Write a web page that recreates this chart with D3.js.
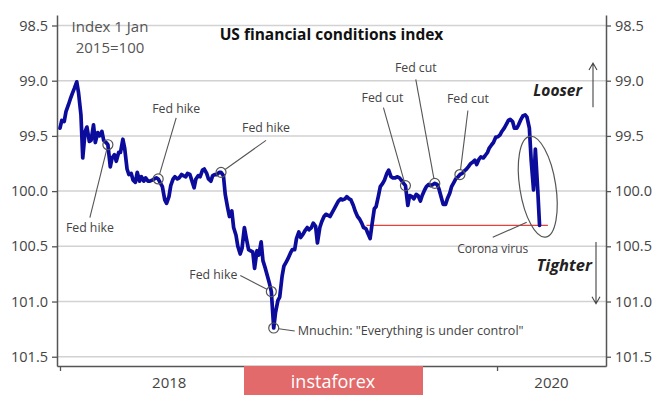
<!DOCTYPE html>
<html>
<head>
<meta charset="utf-8" />
<title>US financial conditions index</title>
<script src="https://cdnjs.cloudflare.com/ajax/libs/d3/7.8.5/d3.min.js"></script>
<style>
  body { margin: 0; background: #fff; }
  text { font-family: "Open Sans", sans-serif; }
</style>
</head>
<body>
<svg id="chart"></svg>
<script>
// readings twice a week (Mon, Thu) from 1 Jan 2018, index 1 Jan 2015 = 100
var firstDay = "2018-01-01";
var fciValues = [
  99.43, 99.36, 99.37, 99.28, 99.22, 99.17, 99.11, 99.07, 99.01, 99.11,
  99.31, 99.70, 99.46, 99.42, 99.55, 99.54, 99.40, 99.56, 99.47, 99.50,
  99.46, 99.54, 99.56, 99.58, 99.78, 99.70, 99.67, 99.73, 99.65, 99.65,
  99.53, 99.61, 99.80, 99.85, 99.84, 99.90, 99.92, 99.83, 99.91, 99.87,
  99.91, 99.88, 99.91, 99.91, 99.90, 99.89, 99.88, 99.89, 99.93, 99.96,
  100.08, 100.11, 100.05, 99.95, 99.89, 99.87, 99.89, 99.88, 99.85, 99.86,
  99.87, 99.84, 99.85, 99.90, 99.97, 99.89, 99.86, 99.87, 99.81, 99.80,
  99.84, 99.89, 99.91, 99.86, 99.85, 99.85, 99.83, 99.83, 99.86, 100.03,
  100.15, 100.23, 100.18, 100.33, 100.40, 100.50, 100.57, 100.52, 100.33, 100.42,
  100.53, 100.54, 100.55, 100.70, 100.54, 100.58, 100.46, 100.63, 100.70, 100.76,
  100.84, 100.91, 101.24, 101.10, 100.99, 100.96, 100.77, 100.68, 100.64, 100.61,
  100.56, 100.53, 100.53, 100.43, 100.37, 100.42, 100.39, 100.36, 100.33, 100.35,
  100.33, 100.29, 100.32, 100.47, 100.33, 100.28, 100.23, 100.21, 100.22, 100.23,
  100.19, 100.16, 100.12, 100.09, 100.07, 100.08, 100.07, 100.05, 100.07, 100.08,
  100.13, 100.18, 100.23, 100.25, 100.29, 100.33, 100.34, 100.38, 100.43, 100.31,
  100.16, 100.14, 100.04, 99.96, 99.93, 99.90, 99.84, 99.81, 99.87, 99.88,
  99.88, 99.87, 99.88, 99.90, 99.93, 99.95, 100.13, 100.04, 100.05, 100.07,
  100.03, 100.04, 100.09, 100.04, 99.99, 99.96, 99.94, 99.95, 99.94, 99.93,
  99.94, 99.98, 100.06, 100.12, 100.12, 100.07, 100.02, 99.96, 99.92, 99.89,
  99.87, 99.85, 99.84, 99.82, 99.80, 99.78, 99.75, 99.74, 99.72, 99.76,
  99.71, 99.69, 99.70, 99.68, 99.65, 99.61, 99.58, 99.56, 99.51, 99.51,
  99.49, 99.46, 99.43, 99.40, 99.36, 99.35, 99.37, 99.43, 99.43, 99.40,
  99.35, 99.32, 99.31, 99.33, 99.43, 99.72, 99.99, 99.62, 99.99, 100.31
];

var yTicks = [98.5, 99.0, 99.5, 100.0, 100.5, 101.0, 101.5];
var yearStarts = ["2018-01-01", "2019-01-01", "2020-01-01"];
var yearLabels = ["2018", "2020"];   // 2019 sits under the watermark

var eventDates = ["2018-03-21", "2018-06-13", "2018-09-26", "2018-12-19", "2018-12-24",
                  "2019-07-31", "2019-09-18", "2019-10-30"];
var eventTexts = ["Fed hike", "Fed hike", "Fed hike", "Fed hike",
                  "Mnuchin: \"Everything is under control\"",
                  "Fed cut", "Fed cut", "Fed cut"];

// reference level after the corona drop
var redLineStart = "2019-05-28";
var redLineEnd = "2020-03-26";
var coronaDate = "2020-03-09";
var coronaLevel = 99.96;

// label placement, px offsets from the circled point
var eventLayout = [
  {dx: -18, dy: 87, lx: -18, ly: 73, anchor: "middle"},
  {dx: 18, dy: -66, lx: 18, ly: -61, anchor: "middle"},
  {dx: 45, dy: -40, lx: 45, ly: -32, anchor: "middle"},
  {dx: -34, dy: -13, lx: -31, ly: -16, anchor: "end"},
  {dx: 24, dy: 7, lx: 21, ly: 3, anchor: "start"},
  {dx: -23, dy: -84, lx: -22, ly: -78, anchor: "middle"},
  {dx: -19, dy: -111, lx: -19, ly: -104, anchor: "middle"},
  {dx: 8, dy: -72, lx: 8, ly: -64, anchor: "middle"}
];

var width = 665, height = 397;
var margin = {top: 15, right: 59, bottom: 31, left: 57};
var parse = d3.timeParse("%Y-%m-%d");

var svg = d3.select("#chart")
            .attr("width", width)
            .attr("height", height);

var x = d3.scaleTime()
          .domain([new Date(2017, 11, 27), new Date(2020, 6, 1)])
          .range([margin.left, width - margin.right]);

var y = d3.scaleLinear()
          .domain([98.405, 101.584])
          .range([margin.top, height - margin.bottom]);

var start = parse(firstDay);
var series = fciValues.map(function(v, i) {
  return {date: d3.timeDay.offset(start, 7 * Math.floor(i / 2) + 3 * (i % 2)), value: v};
});

// grid
svg.append("g")
   .selectAll("line")
   .data(yTicks)
   .enter().append("line")
   .attr("x1", margin.left)
   .attr("x2", width - margin.right)
   .attr("y1", function(d) { return y(d); })
   .attr("y2", function(d) { return y(d); })
   .attr("stroke", "#d2d2d2")
   .attr("stroke-width", 1.5);

var fmt = d3.format(".1f");

var leftAxis = svg.append("g")
                  .attr("transform", "translate(" + margin.left + ",0)")
                  .call(d3.axisLeft(y).tickValues(yTicks).tickFormat(fmt).tickSize(5).tickSizeOuter(0).tickPadding(4));

var rightAxis = svg.append("g")
                   .attr("transform", "translate(" + (width - margin.right) + ",0)")
                   .call(d3.axisRight(y).tickValues(yTicks).tickFormat(fmt).tickSize(5).tickSizeOuter(0).tickPadding(4));

var bottomAxis = svg.append("g")
                    .attr("transform", "translate(0," + (height - margin.bottom) + ")")
                    .call(d3.axisBottom(x).tickValues(yearStarts.map(parse)).tickFormat("").tickSize(5).tickSizeOuter(0));

[leftAxis, rightAxis, bottomAxis].forEach(function(a) {
  a.select(".domain").attr("stroke", "#555").attr("stroke-width", 1.5);
  a.selectAll(".tick line").attr("stroke", "#555").attr("stroke-width", 1.3);
  a.selectAll(".tick text")
   .attr("fill", "#444")
   .attr("font-size", "14.5px")
   .attr("font-family", "Open Sans, sans-serif");
});

// year labels centred on the visible part of each year
var xDom = x.domain();
svg.append("g")
   .selectAll("text")
   .data(yearLabels)
   .enter().append("text")
   .attr("x", function(d) {
     var a = d3.max([new Date(+d, 0, 1), xDom[0]]);
     var b = d3.min([new Date(+d + 1, 0, 1), xDom[1]]);
     return (x(a) + x(b)) / 2;
   })
   .attr("y", height - margin.bottom + 22)
   .attr("text-anchor", "middle")
   .attr("fill", "#444")
   .attr("font-size", "15px")
   .text(function(d) { return d; });

// red reference line
var lastValue = fciValues[fciValues.length - 1];
svg.append("line")
   .attr("x1", x(parse(redLineStart)))
   .attr("x2", x(parse(redLineEnd)))
   .attr("y1", y(lastValue))
   .attr("y2", y(lastValue))
   .attr("stroke", "#e8403c")
   .attr("stroke-width", 1.3);

var line = d3.line()
             .x(function(d) { return x(d.date); })
             .y(function(d) { return y(d.value); });

svg.append("path")
   .datum(series)
   .attr("d", line)
   .attr("fill", "none")
   .attr("stroke", "#0b0b9c")
   .attr("stroke-width", 3.7)
   .attr("stroke-linejoin", "round")
   .attr("stroke-linecap", "round");

// annotations
var bisect = d3.bisector(function(d) { return d.date; }).center;
var r = 5;

eventDates.forEach(function(ds, i) {
  var p = series[bisect(series, parse(ds))];
  var cx = x(p.date), cy = y(p.value);
  var lay = eventLayout[i];
  var ex = cx + lay.lx, ey = cy + lay.ly;
  var len = Math.sqrt(lay.lx * lay.lx + lay.ly * lay.ly);

  svg.append("line")
     .attr("x1", cx + r * lay.lx / len)
     .attr("y1", cy + r * lay.ly / len)
     .attr("x2", ex)
     .attr("y2", ey)
     .attr("stroke", "#555")
     .attr("stroke-width", 1.1);

  svg.append("circle")
     .attr("cx", cx)
     .attr("cy", cy)
     .attr("r", r)
     .attr("fill", "none")
     .attr("stroke", "#555")
     .attr("stroke-width", 1.2);

  svg.append("text")
     .attr("x", cx + lay.dx)
     .attr("y", cy + lay.dy)
     .attr("text-anchor", lay.anchor)
     .attr("fill", "#444")
     .attr("font-size", i == 4 ? "12.6px" : "12.3px")
     .text(eventTexts[i]);
});

// corona ellipse
var ecx = x(parse(coronaDate)), ecy = y(coronaLevel);
svg.append("ellipse")
   .attr("cx", ecx)
   .attr("cy", ecy)
   .attr("rx", 18)
   .attr("ry", 51)
   .attr("transform", "rotate(-9," + ecx + "," + ecy + ")")
   .attr("fill", "none")
   .attr("stroke", "#555")
   .attr("stroke-width", 1.2);

svg.append("line")
   .attr("x1", ecx - 11)
   .attr("y1", y(lastValue) - 3)
   .attr("x2", ecx - 45)
   .attr("y2", y(lastValue) + 12)
   .attr("stroke", "#555")
   .attr("stroke-width", 1.1);

svg.append("text")
   .attr("x", ecx - 45)
   .attr("y", y(lastValue) + 28)
   .attr("text-anchor", "middle")
   .attr("fill", "#444")
   .attr("font-size", "12px")
   .text("Corona virus");

// titles
svg.append("text")
   .attr("x", (margin.left + width - margin.right) / 2)
   .attr("y", 40)
   .attr("text-anchor", "middle")
   .attr("font-weight", "bold")
   .attr("font-size", "15.5px")
   .attr("fill", "#111")
   .text("US financial conditions index");

svg.append("text")
   .attr("x", 110)
   .attr("y", 32)
   .attr("text-anchor", "middle")
   .attr("fill", "#555")
   .attr("font-size", "15px")
   .text("Index 1 Jan");

svg.append("text")
   .attr("x", 110)
   .attr("y", 53)
   .attr("text-anchor", "middle")
   .attr("fill", "#555")
   .attr("font-size", "15px")
   .text("2015=100");

// looser / tighter arrows
var ax = width - margin.right;
function arrow(xp, yFrom, yTo) {
  var dir = yTo < yFrom ? 1 : -1;
  svg.append("path")
     .attr("d", "M" + xp + "," + yFrom + "L" + xp + "," + yTo +
                "M" + (xp - 4) + "," + (yTo + 7 * dir) + "L" + xp + "," + yTo + "L" + (xp + 4) + "," + (yTo + 7 * dir))
     .attr("fill", "none")
     .attr("stroke", "#444")
     .attr("stroke-width", 1.1);
}
arrow(ax - 13, y(99.24), y(98.84));
arrow(ax - 10, y(100.46), y(101.02));

svg.append("text")
   .attr("x", ax - 24)
   .attr("y", y(99.14))
   .attr("text-anchor", "end")
   .attr("font-weight", "bold")
   .attr("font-style", "italic")
   .attr("font-size", "15.5px")
   .attr("fill", "#222")
   .text("Looser");

svg.append("text")
   .attr("x", ax - 14)
   .attr("y", y(100.72))
   .attr("text-anchor", "end")
   .attr("font-weight", "bold")
   .attr("font-style", "italic")
   .attr("font-size", "16.5px")
   .attr("fill", "#222")
   .text("Tighter");

// watermark
var logo = svg.append("g");
logo.append("rect")
    .attr("x", 244)
    .attr("y", height - margin.bottom)
    .attr("width", 179)
    .attr("height", 29)
    .attr("fill", "#e26a6a");
logo.append("text")
    .attr("x", 333)
    .attr("y", height - margin.bottom + 22)
    .attr("text-anchor", "middle")
    .attr("fill", "#fff")
    .attr("font-size", "18px")
    .text("instaforex");
</script>
</body>
</html>
